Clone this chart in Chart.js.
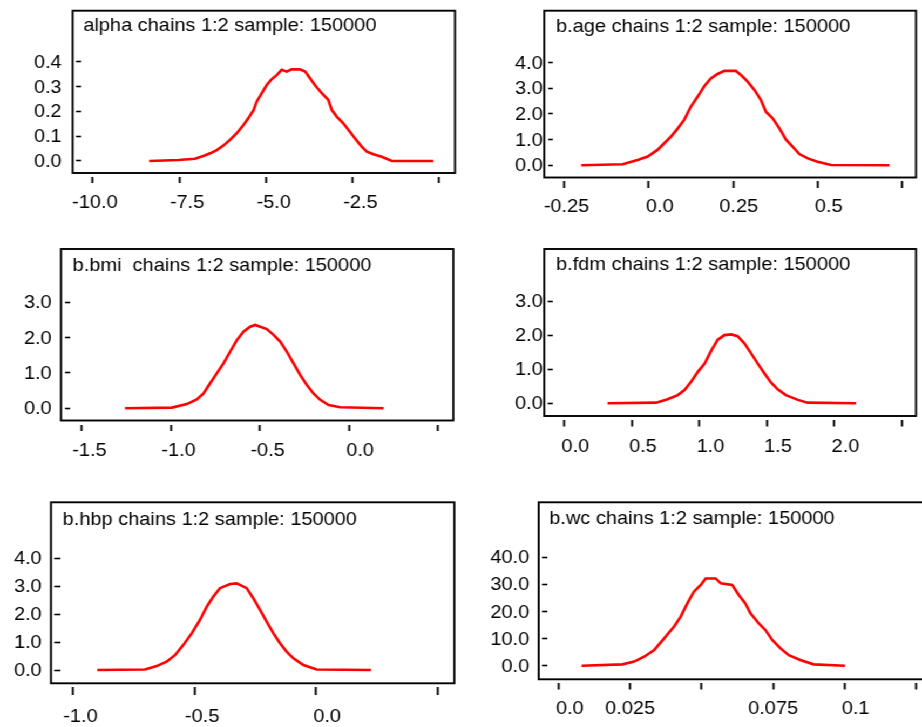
<!DOCTYPE html>
<html>
<head>
<meta charset="utf-8">
<script src="https://cdn.jsdelivr.net/npm/chart.js@4/dist/chart.umd.min.js"></script>
<style>
html,body{margin:0;padding:0;background:#fff;overflow:hidden;width:922px;height:727px;}
#wrap{position:absolute;left:0;top:0;width:854px;height:727px;transform-origin:0 0;}
#wrap canvas{position:absolute;left:0;top:0;}
</style>
</head>
<body>
<div id="wrap"></div>
<script>
// ---------- DATA ----------
const titles = [
  "alpha chains 1:2 sample: 150000",
  "b.age chains 1:2 sample: 150000",
  "b.bmi  chains 1:2 sample: 150000",
  "b.fdm chains 1:2 sample: 150000",
  "b.hbp chains 1:2 sample: 150000",
  "b.wc chains 1:2 sample: 150000"
];

const alphaX = [-8.37,-7.53,-7.05,-6.81,-6.61,-6.42,-6.23,-6.04,-5.85,-5.65,-5.51,-5.36,-5.27,-5.12,-4.98,-4.84,-4.69,-4.55,-4.40,-4.26,-4.02,-3.87,-3.73,-3.59,-3.39,-3.20,-3.10,-2.96,-2.77,-2.58,-2.43,-2.24,-2.09,-1.90,-1.66,-1.37,-0.17];
const alphaY = [0,0.004,0.009,0.020,0.031,0.044,0.062,0.085,0.111,0.145,0.172,0.205,0.239,0.273,0.306,0.329,0.346,0.367,0.360,0.369,0.369,0.360,0.333,0.306,0.273,0.246,0.205,0.179,0.152,0.118,0.091,0.058,0.038,0.027,0.017,0,0];

const ageX = [-0.20,-0.077,-0.033,-0.003,0.026,0.046,0.066,0.086,0.105,0.125,0.145,0.165,0.184,0.204,0.224,0.244,0.258,0.273,0.293,0.313,0.332,0.347,0.367,0.387,0.406,0.426,0.446,0.471,0.500,0.540,0.713];
const ageY = [0,0.04,0.21,0.34,0.60,0.86,1.12,1.44,1.77,2.29,2.68,3.09,3.39,3.56,3.68,3.68,3.68,3.52,3.26,2.94,2.55,2.09,1.83,1.44,1.01,0.73,0.44,0.27,0.14,0.01,0];

const bmiX = [-1.257,-0.994,-0.91,-0.854,-0.816,-0.779,-0.742,-0.704,-0.667,-0.629,-0.592,-0.554,-0.526,-0.498,-0.461,-0.423,-0.386,-0.348,-0.311,-0.273,-0.236,-0.199,-0.161,-0.114,-0.049,0.195];
const bmiY = [0,0.02,0.12,0.25,0.42,0.71,0.99,1.27,1.60,1.93,2.17,2.31,2.36,2.31,2.24,2.08,1.89,1.60,1.27,0.94,0.66,0.42,0.24,0.09,0.03,0];

const fdmX = [0.32,0.68,0.765,0.84,0.89,0.94,0.99,1.04,1.09,1.135,1.185,1.234,1.283,1.333,1.382,1.431,1.481,1.53,1.58,1.64,1.73,1.80,2.16];
const fdmY = [0,0.02,0.12,0.24,0.39,0.64,0.93,1.17,1.56,1.86,2.00,2.02,1.97,1.76,1.47,1.17,0.88,0.61,0.41,0.24,0.10,0.02,0];

const hbpX = [-0.899,-0.703,-0.655,-0.614,-0.579,-0.545,-0.511,-0.477,-0.449,-0.422,-0.395,-0.353,-0.326,-0.285,-0.258,-0.230,-0.203,-0.175,-0.148,-0.121,-0.093,-0.052,0.003,0.226];
const hbpY = [0,0.02,0.14,0.30,0.54,0.90,1.31,1.79,2.27,2.63,2.93,3.08,3.10,2.93,2.57,2.15,1.73,1.31,0.96,0.66,0.42,0.18,0.02,0];

const wcX = [0.008,0.0223,0.0264,0.0299,0.0334,0.0369,0.0403,0.0427,0.045,0.0473,0.0497,0.0514,0.0549,0.0567,0.0607,0.063,0.0653,0.0671,0.070,0.0723,0.0747,0.0776,0.0805,0.0845,0.0892,0.1002];
const wcY = [0,0.5,1.5,3.3,5.8,10.1,14.4,18.1,23.0,27.3,29.8,32.2,32.2,30.4,29.8,26.1,23.0,19.3,15.6,13.2,9.5,6.4,3.9,2.1,0.5,0];

const seriesX = [alphaX, ageX, bmiX, fdmX, hbpX, wcX];
const seriesY = [alphaY, ageY, bmiY, fdmY, hbpY, wcY];

const xTickValues = [
  [-10,-7.5,-5,-2.5,0],
  [-0.25,0,0.25,0.5,0.75],
  [-1.5,-1,-0.5,0,0.5],
  [0,0.5,1,1.5,2,2.5],
  [-1,-0.5,0,0.5],
  [0,0.025,0.05,0.075,0.1,0.125]
];
const xTickLabels = [
  ["-10.0","-7.5","-5.0","-2.5",""],
  ["-0.25","0.0","0.25","0.5",""],
  ["-1.5","-1.0","-0.5","0.0",""],
  ["0.0","0.5","1.0","1.5","2.0",""],
  ["-1.0","-0.5","0.0",""],
  ["0.0","0.025","","0.075","0.1",""]
];
const yTickValues = [
  [0,0.1,0.2,0.3,0.4],
  [0,1,2,3,4],
  [0,1,2,3],
  [0,1,2,3],
  [0,1,2,3,4],
  [0,10,20,30,40]
];
const yTickLabels = [
  ["0.0","0.1","0.2","0.3","0.4"],
  ["0.0","1.0","2.0","3.0","4.0"],
  ["0.0","1.0","2.0","3.0"],
  ["0.0","1.0","2.0","3.0"],
  ["0.0","1.0","2.0","3.0","4.0"],
  ["0.0","10.0","20.0","30.0","40.0"]
];

// ---------- LAYOUT (page pixels) ----------
const PAGE_W = 922, PAGE_H = 727, CANVAS_W = 854;
const K = PAGE_W / CANVAS_W;       // horizontal stretch of the original picture
const FONT = "'Liberation Sans', Arial, sans-serif";
const FONT_SIZE = 18.5;

const layouts = [
  {box:[72.7,10.7,455,173],   yMark:[76,81],      xMark:[177.5,183], xCal:[-10,92.7,0,439.3],     yCal:[0,161,0.4,61.7],   yGap:14.3, xLabelY:202.5, title:[83.3,26]},
  {box:[544.3,10.7,916,177.5],yMark:[548.3,552.7],xMark:[181,188],   xCal:[-0.25,564.3,0.75,902], yCal:[0,165.3,4,62.7],   yGap:5.6,  xLabelY:207,   title:[556,27]},
  {box:[61,249,453.3,420.5],  yMark:[65,70.5],    xMark:[424.5,431], xCal:[-1.5,81.7,0.5,438],    yCal:[0,408.3,3,302.3],  yGap:13.3, xLabelY:450.5, title:[72.7,266]},
  {box:[544.3,249,916,416],   yMark:[547.7,552.7],xMark:[419.5,426.5],xCal:[0,564.3,2.5,902],     yCal:[0,403.3,3,301],    yGap:5,    xLabelY:446.7, title:[556,265]},
  {box:[51,502.3,454.3,683.3],yMark:[54.3,60],    xMark:[687,695],   xCal:[-1,72.7,0.5,437.7],    yCal:[0,670,4,558.3],    yGap:12.6, xLabelY:716.7, title:[62.7,520]},
  {box:[538.7,502.3,926,679.3],yMark:[542,547],   xMark:[682.5,689.5],xCal:[0,558.7,0.125,916],   yCal:[0,665.7,40,557.3], yGap:12.7, xLabelY:709.3, title:[549.3,519.3]}
];

const wrap = document.getElementById('wrap');
wrap.style.transform = 'scaleX(' + K + ')';

const framePlugin = {
  id: 'frame',
  afterDraw(chart) {
    const P = chart.options.plugins.frame;
    const ctx = chart.ctx;
    ctx.save();
    ctx.strokeStyle = '#000';
    ctx.lineWidth = 1.9;
    const l = P.box[0] / K, r = P.box[2] / K, t = P.box[1], b = P.box[3];
    ctx.strokeRect(l, t, r - l, b - t);
    ctx.fillStyle = '#000';
    ctx.font = FONT_SIZE + 'px ' + FONT;
    ctx.textAlign = 'left';
    ctx.textBaseline = 'middle';
    ctx.fillText(P.text, P.title[0] / K, P.title[1]);
    ctx.restore();
  }
};

function makeChart(i) {
  const P = layouts[i];
  const canvas = document.createElement('canvas');
  canvas.width = CANVAS_W; canvas.height = PAGE_H;
  canvas.style.width = CANVAS_W + 'px'; canvas.style.height = PAGE_H + 'px';
  wrap.appendChild(canvas);

  const caL = P.yMark[1] / K;
  const caR = Math.min(P.box[2], PAGE_W) / K;
  const caT = P.box[1];
  const caB = P.xMark[0];
  const xs = ((P.xCal[3] - P.xCal[1]) / K) / (P.xCal[2] - P.xCal[0]);
  const x0 = P.xCal[1] / K;
  const xmin = P.xCal[0] + (caL - x0) / xs;
  const xmax = P.xCal[0] + (caR - x0) / xs;
  const ys = (P.yCal[1] - P.yCal[3]) / (P.yCal[2] - P.yCal[0]);
  const ymin = P.yCal[0] - (caB - P.yCal[1]) / ys;
  const ymax = P.yCal[0] + (P.yCal[1] - caT) / ys;
  const yW = caL, xH = PAGE_H - caB;   // scales fill the space so labels are not clipped
  const lineH = FONT_SIZE * 1.2;

  const xv = xTickValues[i], xl = xTickLabels[i];
  const yv = yTickValues[i], yl = yTickLabels[i];

  new Chart(canvas, {
    type: 'line',
    data: {
      datasets: [{
        data: seriesX[i].map((x, j) => ({x: x, y: seriesY[i][j]})),
        borderColor: '#ff0000',
        borderWidth: 2.6,
        pointRadius: 0,
        tension: 0,
        fill: false
      }]
    },
    options: {
      responsive: false,
      animation: false,
      devicePixelRatio: 1,
      layout: {autoPadding: false, padding: {left: 0, right: CANVAS_W - caR, top: caT, bottom: 0}},
      plugins: {
        legend: {display: false},
        tooltip: {enabled: false},
        frame: {box: P.box, title: P.title, text: titles[i]}
      },
      scales: {
        x: {
          type: 'linear', min: xmin, max: xmax,
          afterBuildTicks: s => { s.ticks = xv.map(v => ({value: v})); },
          afterFit: s => { s.height = xH; s.paddingLeft = 0; s.paddingRight = 0; },
          border: {display: false},
          grid: {drawOnChartArea: false, drawTicks: true, tickLength: P.xMark[1] - P.xMark[0], tickWidth: 1.9, tickColor: '#000'},
          ticks: {
            autoSkip: false, maxRotation: 0, minRotation: 0, align: 'end',
            labelOffset: 25 / K,
            padding: P.xLabelY - lineH / 2 - P.xMark[1],
            color: '#000', font: {family: FONT, size: FONT_SIZE},
            callback: (v, idx) => xl[idx]
          }
        },
        y: {
          type: 'linear', min: ymin, max: ymax,
          afterBuildTicks: s => { s.ticks = yv.map(v => ({value: v})); },
          afterFit: s => { s.width = yW; s.paddingTop = 0; s.paddingBottom = 0; },
          border: {display: false},
          grid: {drawOnChartArea: false, drawTicks: true, tickLength: (P.yMark[1] - P.yMark[0]) / K, tickWidth: 1.6, tickColor: '#000'},
          ticks: {
            autoSkip: false,
            padding: P.yGap / K,
            labelOffset: 1,
            color: '#000', font: {family: FONT, size: FONT_SIZE},
            callback: (v, idx) => yl[idx]
          }
        }
      }
    },
    plugins: [framePlugin]
  });
}

for (let i = 0; i < 6; i++) makeChart(i);
</script>
</body>
</html>
